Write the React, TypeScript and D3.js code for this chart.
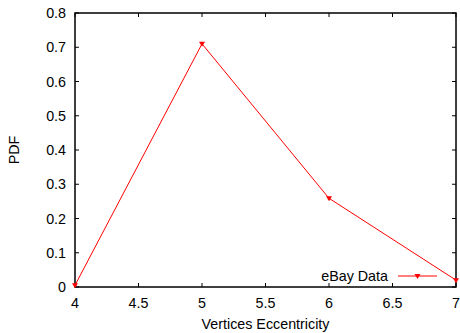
import React, { useEffect, useRef } from 'react';
import * as d3 from 'd3';

const eccentricity = [4, 5, 6, 7];
const pdfValues = [0.005, 0.71, 0.259, 0.02];
const xTicks = [4, 4.5, 5, 5.5, 6, 6.5, 7];
const yTicks = [0, 0.1, 0.2, 0.3, 0.4, 0.5, 0.6, 0.7, 0.8];
const seriesName = 'eBay Data';

const App: React.FC = () => {
  const svgRef = useRef<SVGSVGElement>(null);

  useEffect(() => {
    if (!svgRef.current) return;
    const width = 460;
    const height = 333;
    const margin = { top: 13, right: 4, bottom: 46, left: 75 };
    const w = width - margin.left - margin.right;
    const h = height - margin.top - margin.bottom;
    const font = 'Liberation Sans, Arial, Helvetica, sans-serif';
    const fs = 14.3;

    const svg = d3.select(svgRef.current);
    svg.selectAll('*').remove();

    const g = svg.append('g').attr('transform', `translate(${margin.left},${margin.top})`);

    const x = d3.scaleLinear().domain([4, 7]).range([0, w]);
    const y = d3.scaleLinear().domain([0, 0.8]).range([h, 0]);

    const tickLen = 4;
    // ticks (inward, mirrored)
    xTicks.forEach(t => {
      g.append('line').attr('x1', x(t)).attr('x2', x(t)).attr('y1', h).attr('y2', h - tickLen)
        .attr('stroke', '#000').attr('stroke-width', 1);
      g.append('line').attr('x1', x(t)).attr('x2', x(t)).attr('y1', 0).attr('y2', tickLen)
        .attr('stroke', '#000').attr('stroke-width', 1);
      g.append('text').attr('x', x(t)).attr('y', h + 20.5).attr('text-anchor', 'middle')
        .attr('font-family', font).attr('font-size', fs).attr('fill', '#000').text(String(t));
    });
    yTicks.forEach(t => {
      g.append('line').attr('x1', 0).attr('x2', tickLen).attr('y1', y(t)).attr('y2', y(t))
        .attr('stroke', '#000').attr('stroke-width', 1);
      g.append('line').attr('x1', w).attr('x2', w - tickLen).attr('y1', y(t)).attr('y2', y(t))
        .attr('stroke', '#000').attr('stroke-width', 1);
      g.append('text').attr('x', -9).attr('y', y(t)).attr('dy', '0.35em').attr('text-anchor', 'end')
        .attr('font-family', font).attr('font-size', fs).attr('fill', '#000').text(String(t));
    });

    // frame
    g.append('rect').attr('x', 0).attr('y', 0).attr('width', w).attr('height', h)
      .attr('fill', 'none').attr('stroke', '#000').attr('stroke-width', 1.5);

    const pts = eccentricity.map((e, i) => [e, pdfValues[i]] as [number, number]);
    const line = d3.line<[number, number]>().x(d => x(d[0])).y(d => y(d[1]));

    g.append('path').datum(pts).attr('d', line).attr('fill', 'none')
      .attr('stroke', '#ff0000').attr('stroke-width', 1);

    const tri = (cx: number, cy: number) =>
      `M${cx - 3},${cy - 2}L${cx + 3},${cy - 2}L${cx},${cy + 3}Z`;

    g.selectAll('.pt').data(pts).enter().append('path')
      .attr('d', d => tri(x(d[0]), y(d[1])))
      .attr('fill', '#ff0000');

    // legend
    const ly = h - 11;
    const lx1 = 323;
    const lx2 = 362;
    g.append('text').attr('x', lx1 - 10).attr('y', ly).attr('dy', '0.35em').attr('text-anchor', 'end')
      .attr('font-family', font).attr('font-size', fs).attr('fill', '#000').text(seriesName);
    g.append('line').attr('x1', lx1).attr('x2', lx2).attr('y1', ly).attr('y2', ly)
      .attr('stroke', '#ff0000').attr('stroke-width', 1);
    g.append('path').attr('d', tri((lx1 + lx2) / 2, ly)).attr('fill', '#ff0000');

    // axis labels
    svg.append('text').attr('x', margin.left + w / 2).attr('y', height - 4).attr('text-anchor', 'middle')
      .attr('font-family', font).attr('font-size', fs).attr('fill', '#000').text('Vertices Eccentricity');
    svg.append('text').attr('transform', `translate(19,${margin.top + h / 2}) rotate(-90)`)
      .attr('text-anchor', 'middle').attr('font-family', font).attr('font-size', fs)
      .attr('fill', '#000').text('PDF');
  }, []);

  return (
    <svg ref={svgRef} width={460} height={333}
      style={{ position: 'absolute', left: 0, top: 0, background: '#fff' }} />
  );
};

export default App;
